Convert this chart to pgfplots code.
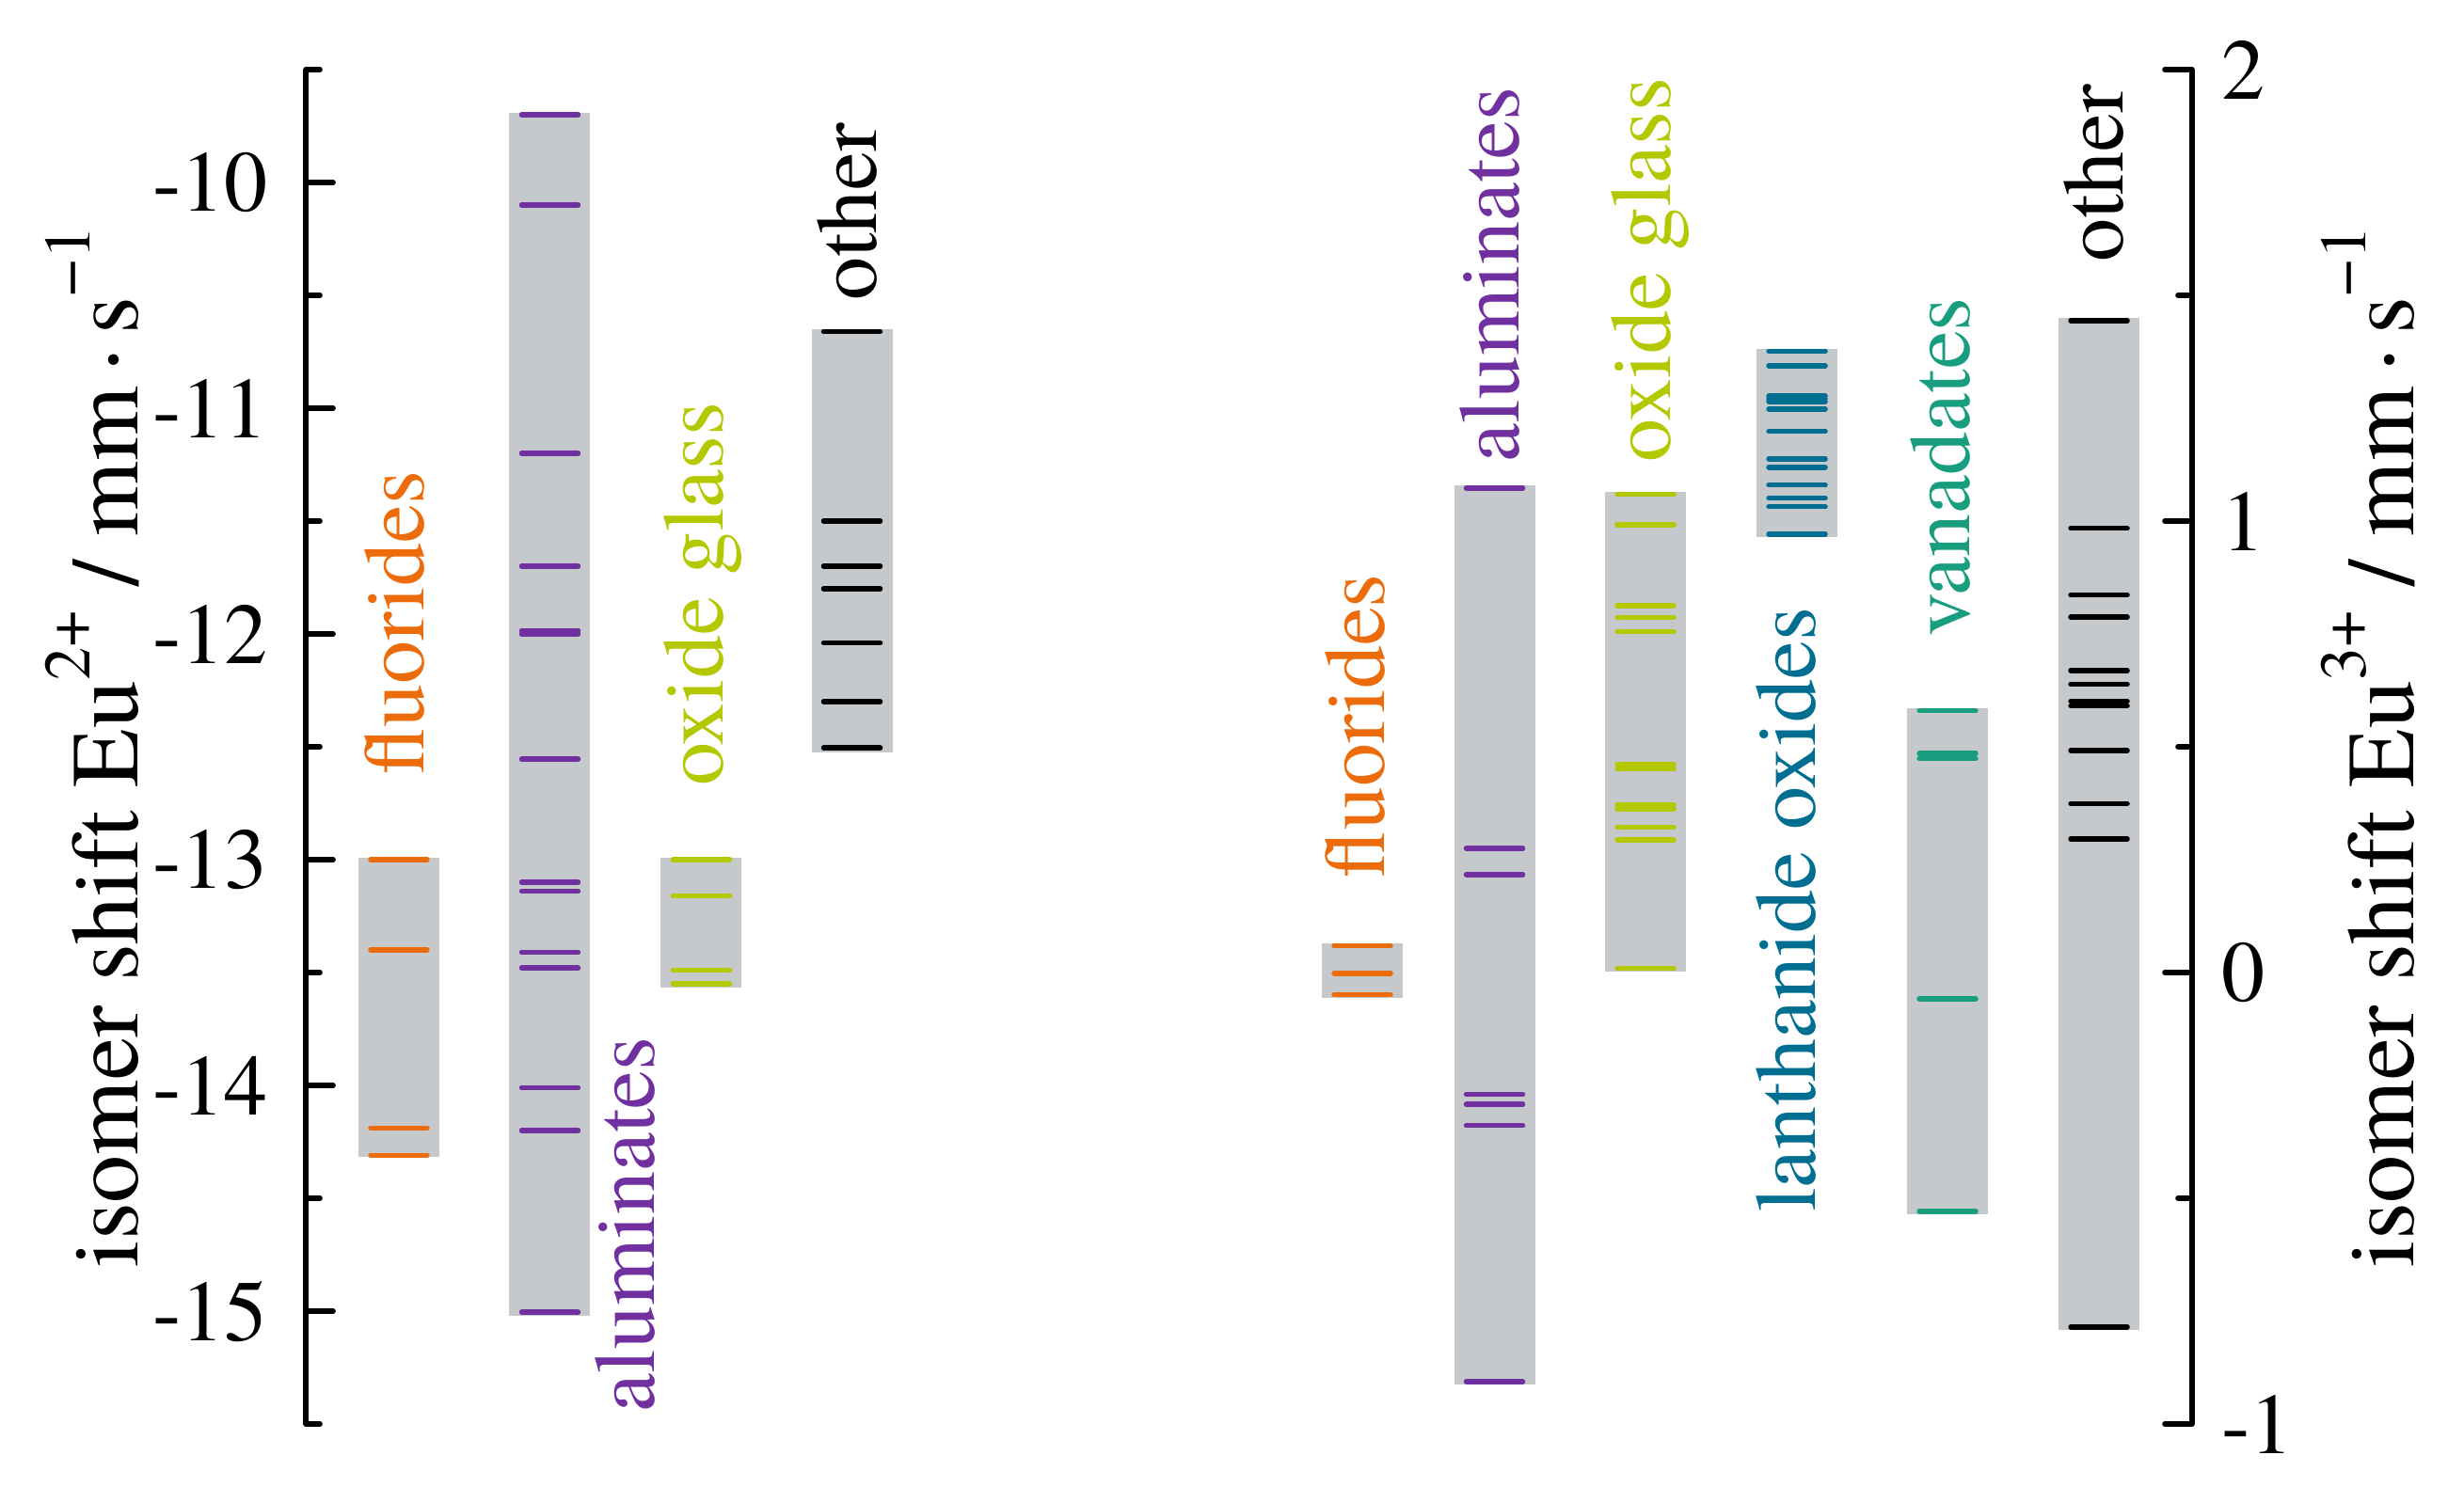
\documentclass[border=0pt]{standalone}
\usepackage{fontspec}
\setmainfont{texgyretermes}[Extension=.otf, UprightFont=*-regular, BoldFont=*-bold, ItalicFont=*-italic, BoldItalicFont=*-bolditalic]
\usepackage{pgfplots}
\pgfplotsset{compat=1.18}
\definecolor{cFl}{RGB}{236,108,12}
\definecolor{cAl}{RGB}{112,48,160}
\definecolor{cOx}{RGB}{180,200,0}
\definecolor{cLa}{RGB}{0,110,145}
\definecolor{cVa}{RGB}{24,158,126}
\definecolor{cBar}{RGB}{198,201,204}
\newcommand\sups[1]{\raisebox{0.5em}{\fontsize{14bp}{14bp}\selectfont #1}}
\pgfplotsset{
  common/.style={
    scale only axis, width=401bp, height=288bp,
    at={(0,0)}, anchor=south west,
    xmin=3.25, xmax=23.30,
    axis x line=none,
    clip=false,
  },
  after/.style={
    tick align=inside,
    major tick length=5.8bp, minor tick length=3bp,
    tick style={line width=1.15bp, line cap=round, black},
    y axis line style={-, line width=1.15bp},
    tick label style={font=\fontsize{18.4bp}{22bp}\selectfont, inner sep=0pt},
  },
  bar/.style={fill=cBar, draw=none, forget plot},
  ln/.style={color=#1, only marks, mark=-, mark size=6bp, mark options={line width=1.1bp, line cap=round, draw=#1}, forget plot},
}
\tikzset{
  lab/.style={rotate=90, anchor=base west, inner sep=0pt, text=#1, font=\fontsize{18.4bp}{22bp}\selectfont},
  ylab/.style={rotate=90, anchor=base, inner sep=0pt, font=\fontsize{20.4bp}{24bp}\selectfont},
}
\begin{document}
\begin{tikzpicture}
% ---------------- Eu2+ (left axis) ----------------
\begin{axis}[common,
  ymin=-15.5, ymax=-9.5,
  axis y line=left,
  after,
  ytick={-15,-14,-13,-12,-11,-10},
  yticklabels={-15,-14,-13,-12,-11,-10},
  minor ytick={-15.5,-14.5,-13.5,-12.5,-11.5,-10.5,-9.5},
  yticklabel style={anchor=east, xshift=-7.8bp},
]
% bars
\addplot[bar] coordinates {(3.81,-12.992) (4.67,-12.992) (4.67,-14.315) (3.81,-14.315)} --cycle;
\addplot[bar] coordinates {(5.415,-9.691) (6.275,-9.691) (6.275,-15.02) (5.415,-15.02)} --cycle;
\addplot[bar] coordinates {(7.02,-12.992) (7.88,-12.992) (7.88,-13.568) (7.02,-13.568)} --cycle;
\addplot[bar] coordinates {(8.625,-10.652) (9.485,-10.652) (9.485,-12.525) (8.625,-12.525)} --cycle;
% lines
\addplot[ln=cFl] coordinates {(4.24,-13.00) (4.24,-13.40) (4.24,-14.19) (4.24,-14.31)};
\addplot[ln=cAl] coordinates {(5.845,-9.70) (5.845,-10.10) (5.845,-11.20) (5.845,-11.70) (5.845,-11.985) (5.845,-12.00) (5.845,-12.555) (5.845,-13.10) (5.845,-13.14) (5.845,-13.41) (5.845,-13.48) (5.845,-14.01) (5.845,-14.20) (5.845,-15.005)};
\addplot[ln=cOx] coordinates {(7.455,-13.00) (7.455,-13.16) (7.455,-13.49) (7.455,-13.55)};
\addplot[ln=black] coordinates {(9.055,-10.66) (9.055,-11.50) (9.055,-11.70) (9.055,-11.80) (9.055,-12.04) (9.055,-12.30) (9.055,-12.505)};
% labels
\node[lab=cFl] at (axis cs:4.50,-12.633) {fluorides};
\node[lab=cAl] at (axis cs:6.95,-15.45) {aluminates};
\node[lab=cOx] at (axis cs:7.68,-12.679) {oxide glass};
\node[lab=black] at (axis cs:9.31,-10.529) {other};
\node[ylab] at (rel axis cs:-0.0888,0.5) {isomer shift Eu\sups{2+} / mm\kern0.15em·\kern0.15em s\sups{−1}};
\end{axis}
% ---------------- Eu3+ (right axis) ----------------
\begin{axis}[common,
  ymin=-1, ymax=2,
  axis y line=right,
  after,
  ytick={-1,0,1,2},
  yticklabels={-1,0,1,2},
  minor ytick={-0.5,0.5,1.5},
  yticklabel style={anchor=west, xshift=6bp},
]
% bars
\addplot[bar] coordinates {(14.05,0.064) (14.91,0.064) (14.91,-0.056) (14.05,-0.056)} --cycle;
\addplot[bar] coordinates {(15.455,1.079) (16.315,1.079) (16.315,-0.913) (15.455,-0.913)} --cycle;
\addplot[bar] coordinates {(17.06,1.065) (17.92,1.065) (17.92,0.003) (17.06,0.003)} --cycle;
\addplot[bar] coordinates {(18.67,1.381) (19.53,1.381) (19.53,0.965) (18.67,0.965)} --cycle;
\addplot[bar] coordinates {(20.27,0.586) (21.13,0.586) (21.13,-0.536) (20.27,-0.536)} --cycle;
\addplot[bar] coordinates {(21.88,1.450) (22.74,1.450) (22.74,-0.791) (21.88,-0.791)} --cycle;
% lines
\addplot[ln=cFl] coordinates {(14.48,0.059) (14.48,-0.002) (14.48,-0.049)};
\addplot[ln=cAl] coordinates {(15.885,1.073) (15.885,0.275) (15.885,0.217) (15.885,-0.270) (15.885,-0.292) (15.885,-0.339) (15.885,-0.906)};
\addplot[ln=cOx] coordinates {(17.49,1.059) (17.49,0.992) (17.49,0.813) (17.49,0.786) (17.49,0.755) (17.49,0.461) (17.49,0.452) (17.49,0.372) (17.49,0.362) (17.49,0.322) (17.49,0.294) (17.49,0.009)};
\addplot[ln=cLa] coordinates {(19.10,1.376) (19.10,1.344) (19.10,1.277) (19.10,1.271) (19.10,1.265) (19.10,1.248) (19.10,1.199) (19.10,1.138) (19.10,1.119) (19.10,1.080) (19.10,1.051) (19.10,1.032) (19.10,0.971)};
\addplot[ln=cVa] coordinates {(20.70,0.580) (20.70,0.485) (20.70,0.474) (20.70,-0.058) (20.70,-0.529)};
\addplot[ln=black] coordinates {(22.31,1.444) (22.31,0.984) (22.31,0.836) (22.31,0.787) (22.31,0.669) (22.31,0.639) (22.31,0.601) (22.31,0.591) (22.31,0.492) (22.31,0.374) (22.31,0.296) (22.31,-0.785)};
% labels
\node[lab=cFl] at (axis cs:14.71,0.206) {fluorides};
\node[lab=cAl] at (axis cs:16.14,1.129) {aluminates};
\node[lab=cOx] at (axis cs:17.75,1.129) {oxide glass};
\node[lab=cLa] at (axis cs:19.29,-0.533) {lanthanide oxides};
\node[lab=cVa] at (axis cs:20.93,0.742) {vanadates};
\node[lab=black] at (axis cs:22.56,1.571) {other};
\node[ylab] at (rel axis cs:1.1172,0.5) {isomer shift Eu\sups{3+} / mm\kern0.15em·\kern0.15em s\sups{−1}};
\end{axis}
\pgfresetboundingbox
\path[use as bounding box] (-65bp,-13.2bp) rectangle (458.8bp,302.8bp);
\end{tikzpicture}
\end{document}
